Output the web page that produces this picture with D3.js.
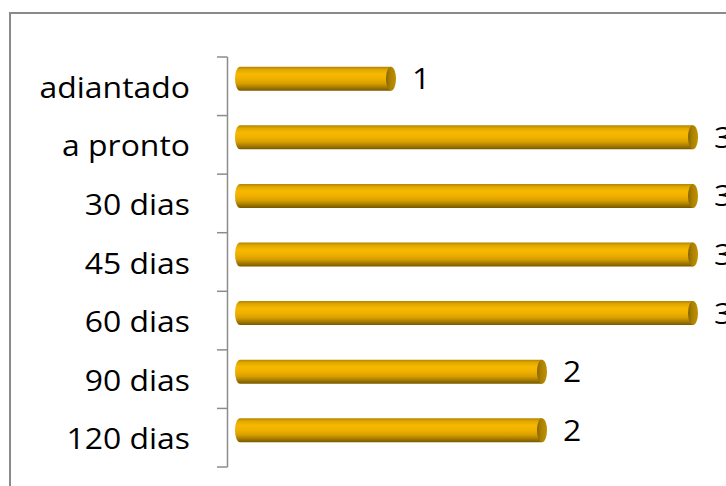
<!DOCTYPE html>
<html>
<head>
<meta charset="utf-8">
<script src="https://cdn.jsdelivr.net/npm/d3@7"></script>
<style>
  body { margin: 0; background: #fff; }
  svg { display: block; }
</style>
</head>
<body>
<div id="chart"></div>
<script>
var categories = ['adiantado', 'a pronto', '30 dias', '45 dias', '60 dias', '90 dias', '120 dias'];
var values = [1, 3, 3, 3, 3, 2, 2];
var valueLabels = ['1', '3', '3', '3', '3', '2', '2'];

var width = 726,
	height = 486,
	svg = d3.select('#chart').append('svg').attr('width', width).attr('height', height);

var x = d3.scaleLinear().domain([0, 3]).range([240, 693]);
var y = d3.scaleBand().domain(categories).range([57, 467]).padding(0);

var barH = 24, rx = 5, lift = 7.5;
var textScale = 1.12;

var defs = svg.append('defs');
var bodyGrad = defs.append('linearGradient').attr('id', 'body').attr('x1', 0).attr('y1', 0).attr('x2', 0).attr('y2', 1);
[[0, '#b08400'], [0.12, '#e0a700'], [0.3, '#f6b900'], [0.5, '#f0b000'], [0.7, '#d69e00'], [0.86, '#a47a00'], [1, '#765800']]
	.forEach(function (s) { bodyGrad.append('stop').attr('offset', s[0]).attr('stop-color', s[1]); });
var capGrad = defs.append('linearGradient').attr('id', 'cap').attr('x1', 0).attr('y1', 0).attr('x2', 1).attr('y2', 0);
[[0, '#856300'], [0.4, '#ab8000'], [1, '#c09100']]
	.forEach(function (s) { capGrad.append('stop').attr('offset', s[0]).attr('stop-color', s[1]); });

// chart area border
svg.append('rect')
	.attr('x', 10).attr('y', 13)
	.attr('width', 740).attr('height', 490)
	.style('fill', 'none')
	.style('stroke', '#8a8a8a')
	.style('stroke-width', 2);

// category axis
var axis = svg.append('g');
axis.append('line')
	.attr('x1', 227.5).attr('x2', 227.5)
	.attr('y1', y.range()[0]).attr('y2', y.range()[1])
	.style('stroke', '#8c8c8c').style('stroke-width', 1.5);
var bounds = categories.map(function (c) { return y(c); }).concat([y.range()[1]]);
axis.selectAll('.tick')
	.data(bounds)
	.enter().append('line')
	.attr('class', 'tick')
	.attr('x1', 217).attr('x2', 227.5)
	.attr('y1', function (d) { return d; })
	.attr('y2', function (d) { return d; })
	.style('stroke', '#8c8c8c').style('stroke-width', 1.5);

axis.selectAll('.cat')
	.data(categories)
	.enter().append('text')
	.attr('class', 'cat')
	.attr('transform', function (d) {
		return 'translate(190,' + (y(d) + y.bandwidth() / 2 + 11.5) + ') scale(' + textScale + ',1)';
	})
	.attr('text-anchor', 'end')
	.style('font-family', '"Open Sans", sans-serif')
	.style('font-size', '28.5px')
	.style('fill', '#000')
	.text(function (d) { return d; });

// cylinders
var bar = svg.selectAll('.bar')
	.data(categories.map(function (c, i) { return { cat: c, value: values[i], label: valueLabels[i] }; }))
	.enter().append('g')
	.attr('class', 'bar');

function cy(d) { return y(d.cat) + y.bandwidth() / 2 - lift; }

bar.append('path')
	.attr('d', function (d) {
		var x0 = x(0), x1 = x(d.value), t = cy(d) - barH / 2, b = cy(d) + barH / 2, r = barH / 2;
		return 'M' + x1 + ',' + t +
			'L' + x0 + ',' + t +
			'A' + rx + ',' + r + ' 0 0 0 ' + x0 + ',' + b +
			'L' + x1 + ',' + b + 'Z';
	})
	.style('fill', 'url(#body)');

bar.append('ellipse')
	.attr('cx', function (d) { return x(d.value); })
	.attr('cy', cy)
	.attr('rx', rx)
	.attr('ry', barH / 2)
	.style('fill', 'url(#cap)');

bar.append('text')
	.attr('transform', function (d) {
		return 'translate(' + (x(d.value) + 21) + ',' + (cy(d) + 10.5) + ') scale(' + textScale + ',1)';
	})
	.style('font-family', '"Open Sans", sans-serif')
	.style('font-size', '28.5px')
	.style('fill', '#000')
	.text(function (d) { return d.label; });
</script>
</body>
</html>
